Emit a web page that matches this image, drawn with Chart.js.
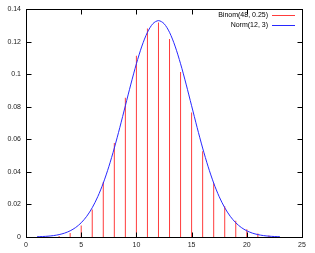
<!DOCTYPE html>
<html>
<head>
<meta charset="utf-8">
<script src="https://cdn.jsdelivr.net/npm/chart.js@4/dist/chart.umd.min.js"></script>
<style>
html,body{margin:0;padding:0;background:#fff;}
canvas{display:block;}
</style>
</head>
<body>
<canvas id="chart" width="315" height="253"></canvas>
<script>
// binomial pmf, impulses
const binomK=[2,3,4,5,6,7,8,9,10,11,12,13,14,15,16,17,18,19,20,21,22];
const binomP=[0.00013,0.00064,0.00241,0.00708,0.01692,0.03384,0.05781,0.08564,0.11133,0.12820,0.13176,0.12162,0.10135,0.07658,0.05265,0.03303,0.01896,0.00998,0.00482,0.00214,0.00088];

// normal curve, sampled every half unit
const normX=[1,1.5,2,2.5,3,3.5,4,4.5,5,5.5,6,6.5,7,7.5,8,8.5,9,9.5,10,10.5,11,11.5,12,12.5,13,13.5,14,14.5,15,15.5,16,16.5,17,17.5,18,18.5,19,19.5,20,20.5,21,21.5,22,22.5,23];
const normY=[0.00016,0.00029,0.00051,0.00088,0.00148,0.00240,0.00380,0.00584,0.00874,0.01272,0.01800,0.02477,0.03316,0.04317,0.05467,0.06733,0.08066,0.09397,0.10648,0.11735,0.12579,0.13115,0.13298,0.13115,0.12579,0.11735,0.10648,0.09397,0.08066,0.06733,0.05467,0.04317,0.03316,0.02477,0.01800,0.01272,0.00874,0.00584,0.00380,0.00240,0.00148,0.00088,0.00051,0.00029,0.00016];

const legendLabels=["Binom(48, 0.25)","Norm(12, 3)"];
const RED="rgb(255,60,60)", BLUE="rgb(40,40,255)";
const FONT="7px 'Liberation Sans', Arial, sans-serif";

const frame={
  id:"frame",
  afterDraw(chart){
    const c=chart.ctx, a=chart.chartArea, xs=chart.scales.x, ys=chart.scales.y;
    c.save();
    c.strokeStyle="#000";
    c.lineWidth=1;
    const L=Math.round(a.left)+0.5, R=Math.round(a.right)+0.5, T=Math.round(a.top)+0.5, B=Math.round(a.bottom)+0.5;
    c.strokeRect(L,T,R-L,B-T);
    c.beginPath();
    xs.ticks.forEach(t=>{
      const px=Math.round(xs.getPixelForValue(t.value))+0.5;
      c.moveTo(px,B);c.lineTo(px,B-5);
      c.moveTo(px,T);c.lineTo(px,T+5);
    });
    ys.ticks.forEach(t=>{
      const py=Math.round(ys.getPixelForValue(t.value))+0.5;
      c.moveTo(L,py);c.lineTo(L+5,py);
      c.moveTo(R,py);c.lineTo(R-5,py);
    });
    c.stroke();
    // legend, inside top right
    c.font=FONT;
    c.textAlign="right";
    c.textBaseline="middle";
    const cols=[RED,BLUE];
    legendLabels.forEach((s,i)=>{
      const y=15+i*10;
      c.fillStyle="#000";
      c.fillText(s,268,y);
      c.fillStyle=cols[i];
      c.fillRect(272,y,23,1);
    });
    c.restore();
  }
};

new Chart(document.getElementById("chart"),{
  type:"bar",
  data:{
    datasets:[{
      type:"line",
      label:legendLabels[1],
      data:normX.map((x,i)=>({x:x,y:normY[i]})),
      borderColor:BLUE,
      borderWidth:1,
      pointRadius:0,
      tension:0.3,
      fill:false,
      order:1
    },{
      type:"bar",
      label:legendLabels[0],
      data:binomK.map((k,i)=>({x:k,y:binomP[i]})),
      backgroundColor:RED,
      barThickness:1,
      inflateAmount:0,
      order:2
    }]
  },
  options:{
    responsive:false,
    animation:false,
    devicePixelRatio:1,
    layout:{padding:{top:5,right:13,left:0,bottom:0}},
    plugins:{legend:{display:false},tooltip:{enabled:false}},
    scales:{
      x:{
        type:"linear",min:0,max:25,offset:false,
        grid:{display:false,drawTicks:false,offset:false},
        border:{display:false},
        ticks:{stepSize:5,padding:4,color:"#222",font:{family:"'Liberation Sans', Arial, sans-serif",size:7},maxRotation:0},
        afterFit(s){s.height=16;}
      },
      y:{
        min:0,max:0.14,
        grid:{display:false,drawTicks:false},
        border:{display:false},
        ticks:{stepSize:0.02,padding:5,color:"#222",font:{family:"'Liberation Sans', Arial, sans-serif",size:7},
          callback:v=>String(+v.toFixed(2))},
        afterFit(s){s.width=26;}
      }
    }
  },
  plugins:[frame]
});
</script>
</body>
</html>
